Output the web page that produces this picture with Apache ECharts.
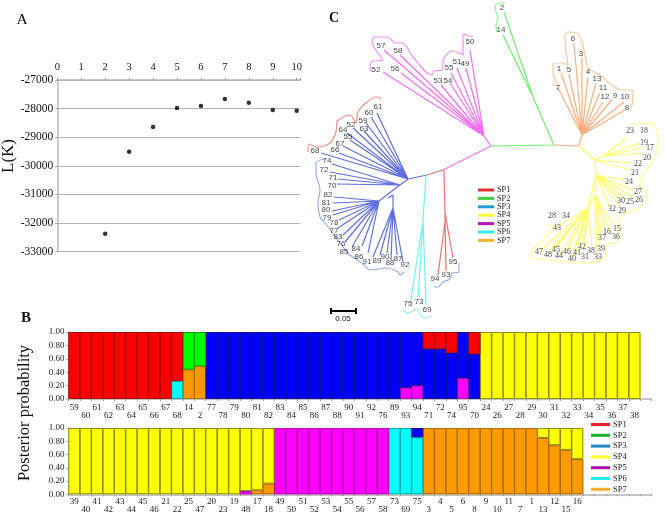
<!DOCTYPE html>
<html><head><meta charset="utf-8">
<style>html,body{margin:0;padding:0;background:#fff}#c{width:666px;height:514px}</style>
<script src="https://cdn.jsdelivr.net/npm/echarts@6/dist/echarts.min.js"></script>
</head><body><div id="c"></div>
<script>
// ---------- Panel A ----------
const kValues = [2,3,4,5,6,7,8,9,10];
const lkValues = [-32373,-29506,-28643,-27979,-27909,-27664,-27793,-28049,-28072];

// ---------- Panel B ----------
const row1Labels = ['59','60','61','62','63','64','65','66','67','68','14','2','77','78','79','80','81','82','83','84','85','86','87','88','90','91','92','76','89','93','94','71','72','74','95','70','24','26','27','28','29','30','31','32','33','34','35','36','37','38',''];
const row1SP1 = [1,1,1,1,1,1,1,1,1,.73,0,0,0,0,0,0,0,0,0,0,0,0,0,0,0,0,0,0,0,0,0,.25,.25,.31,0,.33,0,0,0,0,0,0,0,0,0,0,0,0,0,0,0];
const row1SP2 = [0,0,0,0,0,0,0,0,0,0,.56,.51,0,0,0,0,0,0,0,0,0,0,0,0,0,0,0,0,0,0,0,0,0,0,0,0,0,0,0,0,0,0,0,0,0,0,0,0,0,0,0];
const row1SP3 = [0,0,0,0,0,0,0,0,0,0,0,0,1,1,1,1,1,1,1,1,1,1,1,1,1,1,1,1,1,.83,.8,.75,.75,.69,.69,.67,0,0,0,0,0,0,0,0,0,0,0,0,0,0,0];
const row1SP4 = [0,0,0,0,0,0,0,0,0,0,0,0,0,0,0,0,0,0,0,0,0,0,0,0,0,0,0,0,0,0,0,0,0,0,0,0,1,1,1,1,1,1,1,1,1,1,1,1,1,1,0];
const row1SP5 = [0,0,0,0,0,0,0,0,0,0,0,0,0,0,0,0,0,0,0,0,0,0,0,0,0,0,0,0,0,.17,.2,0,0,0,.31,0,0,0,0,0,0,0,0,0,0,0,0,0,0,0,0];
const row1SP6 = [0,0,0,0,0,0,0,0,0,.27,0,0,0,0,0,0,0,0,0,0,0,0,0,0,0,0,0,0,0,0,0,0,0,0,0,0,0,0,0,0,0,0,0,0,0,0,0,0,0,0,0];
const row1SP7 = [0,0,0,0,0,0,0,0,0,0,.44,.49,0,0,0,0,0,0,0,0,0,0,0,0,0,0,0,0,0,0,0,0,0,0,0,0,0,0,0,0,0,0,0,0,0,0,0,0,0,0,0];

const row2Labels = ['39','40','41','42','43','44','45','46','21','22','25','47','20','23','19','48','17','18','49','50','51','52','53','54','55','56','57','58','73','69','75','3','4','5','6','8','9','10','11','7','1','13','12','15','16','','','','','',''];
const row2SP3 = [0,0,0,0,0,0,0,0,0,0,0,0,0,0,0,0,0,0,0,0,0,0,0,0,0,0,0,0,0,0,.14,0,0,0,0,0,0,0,0,0,0,0,0,0,0,0,0,0,0,0,0];
const row2SP4 = [1,1,1,1,1,1,1,1,1,1,1,1,1,1,1,.95,.94,.84,0,0,0,0,0,0,0,0,0,0,0,0,0,0,0,0,0,0,0,0,0,0,0,.15,.26,.33,.47,0,0,0,0,0,0];
const row2SP5 = [0,0,0,0,0,0,0,0,0,0,0,0,0,0,0,.05,0,0,1,1,1,1,1,1,1,1,1,1,0,0,0,0,0,0,0,0,0,0,0,0,0,0,0,0,0,0,0,0,0,0,0];
const row2SP6 = [0,0,0,0,0,0,0,0,0,0,0,0,0,0,0,0,0,0,0,0,0,0,0,0,0,0,0,0,1,1,.86,0,0,0,0,0,0,0,0,0,0,0,0,0,0,0,0,0,0,0,0];
const row2SP7 = [0,0,0,0,0,0,0,0,0,0,0,0,0,0,0,0,.06,.16,0,0,0,0,0,0,0,0,0,0,0,0,0,1,1,1,1,1,1,1,1,1,1,.85,.74,.67,.53,0,0,0,0,0,0];

const speciesNames = ['SP1','SP2','SP3','SP4','SP5','SP6','SP7'];

// ---------- Panel C: tree branches, tips and clade outlines ----------
const treeSP5 = [[[491,146],[443,170]],[[491,146],[484,136]],[[484,136],[470,50]],[[484,136],[466,68]],[[484,136],[457,68]],[[484,136],[451,73]],[[484,136],[450,83]],[[484,136],[441,85]],[[484,136],[400,55]],[[484,136],[384,50]],[[484,136],[401,73]],[[484,136],[383,72]]];
const treeSP3 = [[[427,175],[408,179]],[[408,179],[377,113]],[[408,179],[371,117]],[[408,179],[366,123]],[[408,179],[364,131]],[[408,179],[353,128]],[[408,179],[347,133]],[[408,179],[350,140]],[[408,179],[343,146]],[[408,179],[339,153]],[[408,179],[321,153]],
 [[408,179],[400,185]],[[400,185],[332,164]],[[400,185],[330,172]],[[400,185],[338,179]],[[400,185],[337,184]],[[400,185],[379,201]],[[379,201],[334,197]],[[379,201],[333,203]],[[379,201],[332,211]],[[379,201],[333,215]],[[379,201],[339,220]],[[379,201],[338,228]],[[379,201],[343,235]],[[379,201],[345,242]],[[379,201],[352,247]],[[379,201],[362,246]],[[379,201],[368,253]],
 [[393,195],[393,208]],[[393,195],[388,198]],[[393,208],[373,257]],[[393,208],[380,255]],[[393,208],[387,253]],[[393,208],[391,260]],[[393,208],[397,255]],[[393,208],[403,262]]];
const treeSP1 = [[[443,170],[427,175]],[[444,170],[445,213]],[[445,213],[453,258]],[[445,213],[445,222]],[[445,222],[438,275]],[[445,222],[446,271]]];
const treeSP6 = [[[426,175],[423,220]],[[423,220],[411,300]],[[423,220],[418,297]],[[423,220],[426,305]]];
const treeSP2 = [[[491,146],[554,145]],[[554,145],[533,97]],[[533,97],[504,12]],[[533,97],[503,35]]];
const treeSP7 = [[[554,145],[579,146]],[[579,146],[582,135]],[[582,135],[574,43]],[[582,135],[582,58]],[[582,135],[588,77]],[[582,135],[596,83]],[[582,135],[600,93]],[[582,135],[603,102]],[[582,135],[612,100]],[[582,135],[624,102]],[[582,135],[625,110]],[[582,135],[561,73]],[[582,135],[569,74]],[[582,135],[558,88]]];
const treeSP4 = [[[579,146],[595,160]],[[595,160],[603,156]],[[603,156],[627,138]],[[603,156],[640,143]],[[603,156],[645,147]],[[603,156],[642,153]],[[595,160],[632,163]],[[595,160],[630,170]],[[595,160],[596,175]],[[596,175],[625,180]],[[596,175],[633,190]],[[596,175],[633,197]],[[596,175],[625,198]],[[596,175],[617,197]],[[596,175],[620,207]],[[596,175],[609,205]],[[596,175],[595,195]],
 [[595,195],[612,223]],[[595,195],[611,233]],[[595,195],[605,228]],[[595,195],[602,235]],[[595,195],[600,245]],[[595,195],[597,253]],[[595,195],[588,208]],[[588,208],[592,248]],[[588,208],[583,255]],[[588,208],[582,245]],[[588,208],[576,252]],[[588,208],[572,257]],[[588,208],[567,251]],[[588,208],[560,255]],[[588,208],[555,248]],[[588,208],[548,253]],[[588,208],[539,252]],[[588,208],[555,228]],[[596,175],[588,208]]];

const tipsSP5 = [[470,42,'50'],[465,64,'49'],[457,62,'51'],[449,68,'55'],[448,81,'54'],[438,81,'53'],[398,51,'58'],[381,46,'57'],[395,69,'56'],[376,70,'52']];
const tipsSP3 = [[378,107,'61'],[369,113,'60'],[363,121,'59'],[364,129,'63'],[351,125,'52'],[343,130,'64'],[348,137,'55'],[340,144,'67'],[335,150,'66'],[315,151,'68'],[327,161,'74'],[324,170,'72'],[333,178,'71'],[332,186,'70'],[328,195,'82'],[326,203,'81'],[326,210,'80'],[327,218,'79'],[334,223,'78'],[334,231,'77'],[338,237,'83'],[341,244,'76'],[344,252,'85'],[356,249,'84'],[359,257,'86'],[367,262,'91'],[377,261,'89'],[385,257,'90'],[390,263,'88'],[398,259,'87'],[405,265,'92']];
const tipsSP1 = [[435,279,'94'],[446,275,'93'],[453,262,'95']];
const tipsSP6 = [[408,304,'75'],[419,302,'73'],[427,310,'69']];
const tipsSP2 = [[502,8,'2'],[501,30,'14']];
const tipsSP7 = [[573,39,'6'],[581,54,'3'],[588,72,'4'],[597,79,'13'],[603,88,'11'],[605,97,'12'],[615,96,'9'],[625,97,'10'],[627,108,'8'],[559,69,'1'],[569,70,'5'],[558,88,'7']];
const tipsSP4 = [[630,131,'23'],[644,131,'18'],[644,143,'19'],[650,148,'17'],[647,158,'20'],[638,164,'22'],[635,173,'21'],[629,182,'24'],[638,192,'27'],[639,200,'26'],[630,202,'25'],[621,201,'30'],[622,211,'29'],[612,209,'32'],[552,216,'28'],[566,216,'34'],[557,228,'43'],[617,229,'15'],[616,237,'36'],[607,232,'16'],[602,238,'37'],[601,249,'39'],[591,251,'38'],[598,257,'33'],[582,247,'42'],[577,253,'41'],[585,257,'31'],[572,259,'40'],[567,252,'46'],[559,256,'44'],[556,250,'45'],[548,255,'48'],[539,252,'47']];

const hullPink = [[473,37],[463,34],[463,55],[453,51],[444,58],[442,70],[434,71],[432,75],[413,57],[402,43],[396,43],[387,37],[375,37],[372,42],[383,60],[373,61],[370,68],[372,72]];
const hullRed = [[381,99],[377,97],[367,102],[358,112],[356,123],[350,115],[337,122],[336,132],[330,143],[317,147],[309,144],[308,152]];
const hullBlue = [[325,159],[316,163],[316,173],[320,190],[318,203],[320,217],[325,223],[332,232],[340,243],[350,255],[362,263],[370,270],[387,268],[398,272],[400,275],[404,272]];
const hullBlue2 = [[459,263],[459,272],[452,273],[450,279],[443,282],[438,287],[434,287]];
const hullCyan = [[403,310],[408,313],[417,309],[422,317],[428,318],[431,315]];
const hullGreen = [[505,3],[497,4],[495,8],[498,18],[496,25],[497,32]];
const hullOrange = [[552,85],[558,85],[553,72],[553,64],[561,63],[568,65],[565,37],[568,32],[579,35],[585,55],[588,68],[600,75],[612,85],[623,90],[633,90],[633,100],[630,110]];
const hullYellow = [[628,125],[650,123],[658,137],[655,157],[642,177],[640,185],[647,195],[640,207],[627,213],[620,217],[618,233],[618,242],[607,245],[605,257],[587,263],[568,262],[532,258],[530,255],[543,240],[553,228],[547,224]];
const scaleBar = [[[331,311],[356,311]],[[331,308],[331,314]],[[356,308],[356,314]]];

// ---------- styling ----------
const SERIF = '"Liberation Serif", serif';
const SANS = '"Liberation Sans", sans-serif';
const barFill = {SP1:'#FF0000',SP2:'#00FF00',SP3:'#0000FF',SP4:'#FFFF00',SP5:'#FF00FF',SP6:'#00FFFF',SP7:'#FF9900'};
const barEdge = {SP1:'#A81010',SP2:'#10A010',SP3:'#101090',SP4:'#8C8C20',SP5:'#B010B0',SP6:'#10A8A8',SP7:'#A87010'};
const legendKeyB = ['#F02020','#20B030','#1E88C8','#FFFF30','#B010B0','#20F0F0','#F5B030'];
const legendKeyC = ['#E53030','#40D040','#20A0D8','#FFFF30','#C010B0','#30F0F8','#F5B030'];
const axisGrey = '#B4B4B4';

function segs(list){ const out=[]; list.forEach((s,i)=>{ if(i) out.push(['-','-']); s.forEach(p=>out.push(p)); }); return out; }
function treeLine(list,color,w){ return {type:'line',xAxisIndex:1,yAxisIndex:1,data:segs(list),showSymbol:false,symbol:'none',silent:true,lineStyle:{color:color,width:w||1.2},z:3}; }
function hull(points,color){ return {type:'line',xAxisIndex:1,yAxisIndex:1,data:points,smooth:0.35,showSymbol:false,symbol:'none',silent:true,lineStyle:{color:color,width:1.2},z:2}; }
function tips(points,font){ return {type:'scatter',xAxisIndex:1,yAxisIndex:1,data:points,symbolSize:1,silent:true,itemStyle:{color:'transparent'},z:5,
  label:{show:true,position:'inside',formatter:p=>p.value[2],fontFamily:font,fontSize:8,color:'#111'}}; }
// solid fill stack, then a transparent outline stack exactly over it
function bars(name,vals,ax){ return {type:'bar',name:name,stack:'r'+ax,xAxisIndex:ax,yAxisIndex:ax,barWidth:11.9,barGap:'-100%',data:vals.map(v=>v===0?'-':v),
  itemStyle:{color:barFill[name],borderWidth:0},z:2,silent:true}; }
function edges(name,vals,ax){ return {type:'bar',stack:'e'+ax,xAxisIndex:ax,yAxisIndex:ax,barWidth:11.9,barGap:'-100%',data:vals.map(v=>v===0?'-':v),
  itemStyle:{color:'transparent',borderColor:barEdge[name],borderWidth:1},z:3,silent:true}; }

function rowX(margin,labels,gridIndex){ return {type:'category',gridIndex:gridIndex,data:labels,
  axisLine:{show:true,lineStyle:{color:axisGrey,width:1.5}},axisTick:{show:true,length:2,lineStyle:{color:'#999'},interval:0},
  axisLabel:{interval:0,margin:margin,fontFamily:SERIF,fontSize:9,color:'#222',lineHeight:7.5,hideOverlap:false,
    formatter:(v,i)=> (i%2===0? v : '\n'+v)}}; }
function rowY(gridIndex){ return {type:'value',gridIndex:gridIndex,min:0,max:1,interval:0.2,splitLine:{show:false},
  axisLine:{show:true,lineStyle:{color:axisGrey,width:1.5}},axisTick:{show:true,length:2,lineStyle:{color:'#999'}},
  axisLabel:{margin:4,fontFamily:SERIF,fontSize:9,color:'#222',formatter:v=>v.toFixed(2)}}; }
function keyLegend(left,top,colors,size,gap,w,h){ return {show:true,orient:'vertical',left:left,top:top,selectedMode:false,icon:'rect',itemWidth:w,itemHeight:h,itemGap:gap,padding:0,
  textStyle:{fontFamily:SERIF,fontSize:size,color:'#222',padding:[0,0,0,-2]},
  data:speciesNames.map((n,i)=>({name:n,itemStyle:{color:colors[i],borderWidth:0}}))}; }
function word(text,x,y,size,weight,rot){ return {type:'text',x:x,y:y,rotation:rot||0,silent:true,
  style:{text:text,fontFamily:SERIF,fontSize:size,fontWeight:weight||'normal',fill:'#111',align:'center',verticalAlign:'middle'}}; }

const chart = echarts.init(document.getElementById('c'),null,{renderer:'canvas'});
chart.setOption({
  backgroundColor:'#fff',animation:false,tooltip:{show:false},
  grid:[
    {left:57.3,top:80,width:243,height:171.7,containLabel:false},
    {left:0,top:0,width:666,height:514},
    {left:68.5,right:14.3,top:332,height:67},
    {left:68.5,right:14.3,top:428,height:66.3}
  ],
  xAxis:[
    {type:'value',gridIndex:0,position:'top',min:0,max:10.15,interval:1,splitLine:{show:false},
      axisLine:{show:true,lineStyle:{color:axisGrey,width:1.5}},axisTick:{show:true,length:2,lineStyle:{color:'#999'}},
      axisLabel:{margin:7,fontFamily:SERIF,fontSize:10.5,color:'#111',formatter:v=>Number.isInteger(v)?String(v):''}},
    {type:'value',gridIndex:1,min:0,max:666,show:false},
    rowX(5,row1Labels,2),
    rowX(4,row2Labels,3)
  ],
  yAxis:[
    {type:'value',gridIndex:0,min:-33000,max:-27000,interval:1000,
      splitLine:{show:true,lineStyle:{color:axisGrey,width:1.2}},
      axisLine:{show:true,lineStyle:{color:axisGrey,width:1.5}},axisTick:{show:true,length:2,lineStyle:{color:'#999'}},
      axisLabel:{margin:4,fontFamily:SERIF,fontSize:11.5,color:'#111',formatter:v=>String(v)}},
    {type:'value',gridIndex:1,min:0,max:514,inverse:true,show:false},
    rowY(2),
    rowY(3)
  ],
  legend:[keyLegend(478,186,legendKeyC,8.3,0.4,16,3),keyLegend(591,420,legendKeyB,8.5,1.8,19,3)],
  graphic:[
    word('A',22,20,15.5), word('B',26,318,15,'bold'), word('C',334,18,14,'bold'),
    word('L(K)',9,156,17,'normal',Math.PI/2),
    word('Posterior probability',25,413,16.5,'normal',Math.PI/2),
    {type:'text',x:343,y:319,silent:true,style:{text:'0.05',fontFamily:SANS,fontSize:8,fill:'#111',align:'center',verticalAlign:'middle'}}
  ],
  series:[
    {type:'scatter',xAxisIndex:0,yAxisIndex:0,data:kValues.map((k,i)=>[k,lkValues[i]]),symbolSize:4.5,itemStyle:{color:'#000'},silent:true,z:4},
    hull(hullPink,'#F090F0'),hull(hullRed,'#F09088'),hull(hullBlue,'#98AEE8'),hull(hullBlue2,'#98AEE8'),
    hull(hullCyan,'#90F0F8'),hull(hullGreen,'#90F090'),hull(hullOrange,'#F8C8A0'),hull(hullYellow,'#FFFF90'),
    treeLine(treeSP5,'#F070F0'),treeLine(treeSP3,'#6070E0'),treeLine(treeSP1,'#F07070'),treeLine(treeSP6,'#70F0F8'),
    treeLine(treeSP2,'#70EE70'),treeLine(treeSP7,'#F8B080'),treeLine(treeSP4,'#FFFF70'),
    treeLine(scaleBar,'#000',2),
    tips(tipsSP5,SANS),tips(tipsSP3,SANS),tips(tipsSP1,SANS),tips(tipsSP6,SANS),tips(tipsSP2,SANS),tips(tipsSP7,SANS),tips(tipsSP4,SERIF),
    bars('SP7',row1SP7,2),bars('SP6',row1SP6,2),bars('SP5',row1SP5,2),bars('SP3',row1SP3,2),bars('SP4',row1SP4,2),bars('SP2',row1SP2,2),bars('SP1',row1SP1,2),
    bars('SP7',row2SP7,3),bars('SP6',row2SP6,3),bars('SP5',row2SP5,3),bars('SP3',row2SP3,3),bars('SP4',row2SP4,3),
    edges('SP7',row1SP7,2),edges('SP6',row1SP6,2),edges('SP5',row1SP5,2),edges('SP3',row1SP3,2),edges('SP4',row1SP4,2),edges('SP2',row1SP2,2),edges('SP1',row1SP1,2),
    edges('SP7',row2SP7,3),edges('SP6',row2SP6,3),edges('SP5',row2SP5,3),edges('SP3',row2SP3,3),edges('SP4',row2SP4,3)
  ]
});
</script></body></html>
